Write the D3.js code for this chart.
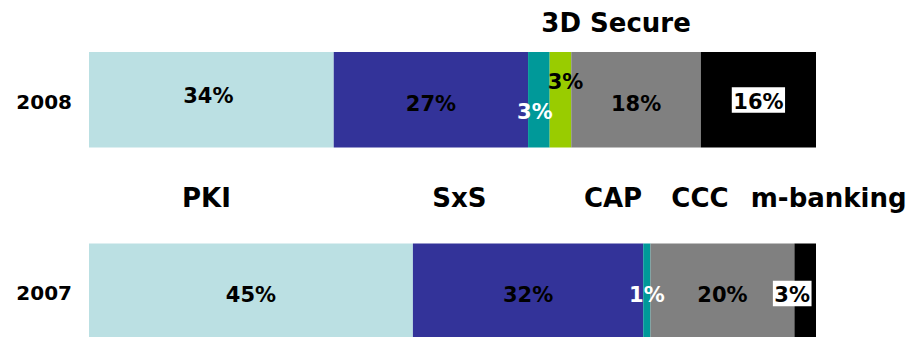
<!DOCTYPE html>
<html>
<head>
<meta charset="utf-8">
<script src="https://cdn.jsdelivr.net/npm/d3@7"></script>
<style>
  html, body { margin: 0; padding: 0; background: #fff; }
  svg { display: block; font-family: "DejaVu Sans", Verdana, sans-serif; font-weight: bold; }
</style>
</head>
<body>
<svg id="chart" width="922" height="337"></svg>
<script>
// Share of authentication methods per year (percent, as labelled)
const years = ["2008", "2007"];
const methods = ["PKI", "SxS", "3D Secure", "CAP", "CCC", "m-banking"];
const share2008 = [34, 27, 3, 3, 18, 16];
const share2007 = [45, 32, 1, 0, 20, 3];

const colors = ["#BBE0E3", "#333399", "#009999", "#99CC00", "#808080", "#000000"];
const labelColors = ["#000", "#000", "#fff", "#000", "#000", "#000"];
const boxedLabel = [false, false, false, false, false, true];

// Legend names sit above the bars, placed along the share axis (fraction of bar)
const legendPos = { "PKI": 0.1616, "SxS": 0.5096, "3D Secure": 0.725, "CAP": 0.7208, "CCC": 0.8404, "m-banking": 1.0175 };
const legendRowY = { "3D Secure": 32 };
const legendY = 207;

// Manual nudges for crowded labels [dx, dy]
const nudge = {
  "2008|PKI": [-3, -8],
  "2008|3D Secure": [-4, 8],
  "2008|CAP": [5, -22],
  "2008|m-banking": [0, -2],
  "2007|m-banking": [-13, 0]
};

const rows = years.map((y, i) => {
  const vals = i === 0 ? share2008 : share2007;
  const o = { year: y };
  methods.forEach((m, j) => o[m] = vals[j]);
  return o;
});

const svg = d3.select("#chart");

const x = d3.scaleLinear().domain([0, 1]).range([89, 816]);
const y = d3.scaleBand().domain(years).range([52, 339]).paddingInner(0.5013).paddingOuter(0).align(0);

const stack = d3.stack().keys(methods).offset(d3.stackOffsetExpand);
const series = stack(rows);

const g = svg.append("g");
series.forEach((s, si) => {
  g.selectAll(null)
    .data(s)
    .join("rect")
    .attr("x", d => x(d[0]))
    .attr("y", d => y(d.data.year))
    .attr("width", d => Math.max(0, x(d[1]) - x(d[0])))
    .attr("height", y.bandwidth())
    .attr("fill", colors[si]);
});

// Value labels
series.forEach((s, si) => {
  s.forEach(d => {
    const v = d.data[s.key];
    if (!v) return;
    const key = d.data.year + "|" + s.key;
    const [dx, dy] = nudge[key] || [0, 0];
    const cx = (x(d[0]) + x(d[1])) / 2 + dx;
    const cy = y(d.data.year) + y.bandwidth() / 2 + 11 + dy;
    const t = g.append("text")
      .attr("x", cx)
      .attr("y", cy)
      .attr("text-anchor", "middle")
      .attr("font-size", 21)
      .attr("fill", labelColors[si])
      .text(v + "%");
    if (boxedLabel[si]) {
      const b = t.node().getBBox();
      g.insert("rect", () => t.node())
        .attr("x", b.x - 1.5)
        .attr("y", cy - 21.5)
        .attr("width", b.width + 3)
        .attr("height", 25.5)
        .attr("fill", "#fff");
    }
  });
});

// Year labels
svg.append("g")
  .selectAll("text")
  .data(years)
  .join("text")
  .attr("x", 72)
  .attr("y", d => y(d) + y.bandwidth() / 2 + 9)
  .attr("text-anchor", "end")
  .attr("font-size", 20)
  .attr("fill", "#000")
  .text(d => d);

// Method names
svg.append("g")
  .selectAll("text")
  .data(methods)
  .join("text")
  .attr("x", d => x(legendPos[d]))
  .attr("y", d => legendRowY[d] !== undefined ? legendRowY[d] : legendY)
  .attr("text-anchor", "middle")
  .attr("font-size", 26)
  .attr("fill", "#000")
  .text(d => d);
</script>
</body>
</html>
